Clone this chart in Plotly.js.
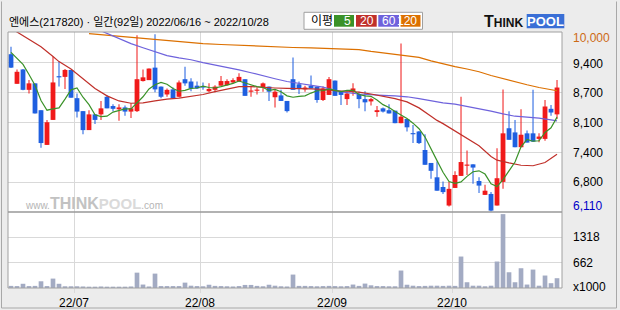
<!DOCTYPE html>
<html><head><meta charset="utf-8">
<script src="https://cdn.plot.ly/plotly-3.0.1.min.js"></script>
<style>html,body{margin:0;padding:0;background:#ececec;}#chart{width:620px;height:310px;}</style>
</head><body><div id="chart"></div>
<script>
// ---- data ----
const openP = [9520,8880,9190,8750,8890,8310,7560,8100,9040,9030,
9180,8570,8290,7880,8220,8220,8600,8400,8330,8370,
8280,8290,8940,8960,9230,8820,8650,8760,8600,8980,
8930,8840,8830,8720,8750,8840,8850,8910,8930,8980,
8710,8730,8800,8820,8590,8630,8510,8980,8870,8760,
8840,8820,8530,8640,8950,8720,8550,8710,8660,8550,
8500,8270,8350,8310,8300,8030,8120,7810,7850,7450,
7170,6860,6650,6250,6630,6890,7110,7140,6780,6480,
6500,6250,6760,7920,7830,7510,7810,7810,7690,7690,
8340,8220];
const highP = [9680,9190,9200,8960,8890,8310,8100,9470,9360,9200,
9180,8670,8290,8310,8220,8510,8640,8440,8440,8410,
8460,9930,9190,9210,9950,8820,8780,8800,8950,9250,
9000,8930,8910,8890,8850,9050,8980,9000,9110,8980,
8840,8800,8910,8820,8760,8750,8510,9450,8930,8840,
9060,8820,8820,9030,8950,8720,8720,8890,8710,8720,
8580,8400,8370,8440,8300,9750,8120,7990,7860,7790,
7170,7200,6770,6760,6990,8600,7440,7140,6860,6700,
6540,7490,8760,8290,8100,8330,7870,8750,7810,8530,
8420,8960];
const lowP = [9220,8880,8740,8670,8240,7500,7560,8100,8820,8770,
8580,8150,7790,7880,8010,8100,8350,8290,8080,8190,
8140,8270,8930,8960,8700,8570,8600,8570,8590,8840,
8720,8770,8750,8700,8700,8840,8840,8890,8930,8620,
8600,8650,8710,8510,8370,8510,8260,8750,8660,8710,
8780,8470,8510,8640,8620,8420,8420,8620,8350,8290,
8410,8170,8260,8240,8030,8030,7850,7600,7580,7130,
6830,6570,6500,6230,6630,6890,6910,6720,6520,6480,
6120,6250,6610,7670,7510,7510,7610,7630,7620,7650,
8190,8120];
const closeP = [9230,9140,8750,8890,8240,7600,8050,8910,9020,9180,
8580,8280,7880,8220,8100,8350,8350,8340,8370,8280,
8350,8980,9020,9210,8760,8600,8750,8570,8910,8890,
8780,8780,8800,8770,8820,8940,8940,8960,9030,8620,
8720,8750,8890,8710,8710,8510,8290,8750,8770,8800,
8780,8530,8780,8980,8620,8640,8670,8780,8550,8480,
8550,8310,8280,8240,8030,8170,7940,7790,7600,7130,
7000,6570,6540,6610,6910,7190,7130,7070,6680,6570,
6140,6840,7810,7670,7510,7780,7610,7630,7740,8390,
8260,8800];
const volume = [55,50,110,50,55,175,50,245,110,45,
45,45,40,35,35,40,35,35,35,35,
40,400,90,40,375,50,50,50,50,140,
60,50,45,85,55,50,45,40,50,80,
80,55,45,85,60,45,40,350,55,55,
50,45,50,55,50,45,50,90,55,115,
70,50,50,45,45,455,85,60,50,55,
60,60,55,60,55,820,150,60,60,45,
60,690,1925,410,150,515,90,480,60,325,
125,255];
const ma5 = [9560,9440,9300,9080,8850,8520,8310,8340,8360,8550,
8750,8790,8590,8430,8210,8170,8180,8270,8300,8340,
8340,8460,8600,8770,8860,8910,8870,8780,8720,8740,
8780,8790,8830,8800,8790,8820,8850,8890,8940,8900,
8850,8820,8800,8740,8760,8710,8620,8590,8610,8620,
8680,8730,8730,8770,8740,8710,8740,8740,8650,8620,
8610,8530,8430,8370,8280,8210,8130,8030,7910,7730,
7490,7220,6970,6770,6730,6760,6880,6980,7000,6930,
6720,6660,6810,7010,7190,7520,7680,7640,7650,7830,
7930,8160];
const ma20Idx = [0,1,2,4,5,7,8,10,12,14,16,18,20,22,24,26,28,30,32,34,36,38,40,42,44,46,48,50,52,54,56,58,60,62,64,66,68,70,71,72,74,76,78,80,81,83,85,87,89,91];
const ma20 = [10080,10000,9930,9760,9680,9470,9360,9200,9000,8780,8620,8510,8460,8470,8510,8550,8570,8610,8650,8710,8760,8820,8820,8800,8790,8780,8780,8770,8760,8730,8720,8700,8660,8610,8560,8490,8360,8180,8090,8020,7860,7700,7540,7310,7230,7170,7120,7110,7180,7360];
const ma60Idx = [14,16,18,20,22,24,26,28,30,32,34,36,38,40,42,44,46,48,50,52,54,56,58,60,62,64,66,68,70,72,74,76,78,80,82,84,86,88,90,91];
const ma60 = [10080,9970,9860,9750,9660,9570,9490,9440,9400,9340,9290,9240,9180,9120,9050,8990,8930,8890,8860,8810,8740,8690,8660,8640,8630,8620,8600,8560,8510,8470,8440,8390,8350,8290,8230,8180,8160,8140,8100,8080];
const ma120Idx = [13,16,18,20,23,26,29,32,35,38,41,44,47,50,53,56,58,60,62,64,66,68,70,72,74,76,78,80,82,84,86,88,90,91];
const ma120 = [9965,9930,9905,9890,9850,9810,9780,9750,9730,9710,9695,9685,9665,9655,9640,9630,9620,9580,9550,9520,9490,9450,9375,9310,9250,9200,9140,9060,8990,8920,8860,8800,8750,8730];
const priceTickText = ['10,000','9,400','8,700','8,100','7,400','6,800','6,110'];
const volTickText = ['1318','662','x1000'];
const monthLabels = ['22/07','22/08','22/09','22/10'];
const monthStartIdx = [11,32,54,74];
const maNames = ['5','20','60','120'];
const titleText = '엔에스(217820) · 일간(92일) 2022/06/16 ~ 2022/10/28';

// ---- styling ----
const C_UP = '#f01a1a', C_DN = '#1f5fe0';
const C_MA = ['#3a9228','#c0302a','#6e62dc','#dc7000'];
const C_VOL = '#a3abc3';
const GRID = '#d9d9d9';
const W=620,H=310,L=8,R=58,T=32,B=22;
const plotW=W-L-R, plotH=H-T-B;
const volFrac = 76/plotH;
const px2x = p => (p-L)/plotW;
const py2y = p => (H-B-p)/plotH;
const priceMax = 10000, priceMin = 6110, volMax = 1980;
const priceGrid = priceTickText.map((t,k)=>priceMax - k*(priceMax-priceMin)/6);
const volGrid = volTickText.map((t,k)=>volMax*(2-k)/3);

const idx = openP.map((v,i)=>i);
const colors = idx.map(i => closeP[i] >= openP[i] ? C_UP : C_DN);

const traces = [
  {type:'bar', x:idx, base:lowP, y:idx.map(i=>Math.max(highP[i]-lowP[i],15)), width:0.17,
   marker:{color:colors, line:{width:0}}, xaxis:'x', yaxis:'y', hoverinfo:'skip'},
  {type:'bar', x:idx, base:idx.map(i=>Math.min(openP[i],closeP[i])),
   y:idx.map(i=>Math.max(Math.abs(closeP[i]-openP[i]),25)), width:0.8,
   marker:{color:colors, line:{width:0}}, xaxis:'x', yaxis:'y', hoverinfo:'skip'},
  {type:'scatter', mode:'lines', x:ma120Idx, y:ma120, line:{color:C_MA[3],width:1.2}, xaxis:'x', yaxis:'y', hoverinfo:'skip'},
  {type:'scatter', mode:'lines', x:ma60Idx, y:ma60, line:{color:C_MA[2],width:1.2}, xaxis:'x', yaxis:'y', hoverinfo:'skip'},
  {type:'scatter', mode:'lines', x:ma20Idx, y:ma20, line:{color:C_MA[1],width:1.2}, xaxis:'x', yaxis:'y', hoverinfo:'skip'},
  {type:'scatter', mode:'lines', x:idx, y:ma5, line:{color:C_MA[0],width:1.2}, xaxis:'x', yaxis:'y', hoverinfo:'skip'},
  {type:'bar', x:idx, y:volume, width:0.78, marker:{color:C_VOL, line:{width:0}}, xaxis:'x', yaxis:'y2', hoverinfo:'skip'}
];

const fontL = '"Liberation Sans", Arial, sans-serif';
const fontK = '"Liberation Sans", "Noto Sans CJK KR", sans-serif';
const shapes = [];
const ann = [];
const line = (x0,y0,x1,y1,c,w)=>shapes.push({type:'line',xref:'paper',yref:'paper',x0:px2x(x0),x1:px2x(x1),y0:py2y(y0),y1:py2y(y1),line:{color:c,width:w||1}});
const rect = (x0,y0,x1,y1,fill,lc)=>shapes.push({type:'rect',xref:'paper',yref:'paper',x0:px2x(x0),x1:px2x(x1),y0:py2y(y1),y1:py2y(y0),fillcolor:fill,line:{color:lc||fill,width:lc?1:0}});
const text = (x,y,t,o)=>ann.push(Object.assign({xref:'paper',yref:'paper',x:px2x(x),y:py2y(y),text:t,showarrow:false,xanchor:'left',yanchor:'middle',font:{family:fontL,size:12,color:'#000'}},o||{}));

// outer frame
line(1.5,1.5,1.5,308,'#a8a8a8');
line(616.5,1.5,616.5,308,'#a8a8a8');
line(1.5,308,616.5,308,'#a8a8a8');
// plot borders
shapes.push({type:'rect',xref:'paper',yref:'paper',x0:0,x1:1,y0:0,y1:1,line:{color:'#a0a0a0',width:1},fillcolor:'rgba(0,0,0,0)'});
shapes.push({type:'line',xref:'paper',yref:'paper',x0:0,x1:1,y0:volFrac,y1:volFrac,line:{color:'#999999',width:1.5}});

// title
text(7,21,titleText,{font:{family:fontK,size:11,color:'#000'}});
// MA legend box
rect(304,12.3,422.5,29.3,'#ffffff','#a0a0a0');
text(308.5,21,'이평',{font:{family:fontK,size:12,color:'#000'}});
const boxes=[[334,354],[356,376.7],[378.3,399],[400.5,420.5]];
boxes.forEach((b,k)=>{
  rect(b[0],15,b[1],26.7,C_MA[k]);
  text(b[1]-1.2,21,maNames[k],{xanchor:'right',font:{family:fontL,size:12,color:'#ffffff'}});
});
// logo
text(481.5,21.5,'<b>T<span style="font-size:12px">HINK</span></b>',{font:{family:fontL,size:16,color:'#111'}});
rect(526.7,14,564.3,28.3,'#3a6fd6');
text(545.5,21.3,'<b>POOL</b>',{xanchor:'center',font:{family:fontL,size:13,color:'#ffffff'}});
// watermark
text(22.5,203,'<span style="font-size:10px;color:#b5b5b5">www.</span><b><span style="color:#c2c2c2">THINK</span><span style="font-size:15px;color:#dadada">POOL</span></b><span style="font-size:10px;color:#b5b5b5">.com</span>',{font:{family:fontL,size:16,color:'#c2c2c2'}});

// right price labels
const pShift=[-5.5,-1.5,-1,-0.5,-0.5,0,6];
priceTickText.forEach((t,k)=>{
  ann.push({xref:'paper',yref:'y',x:1,xshift:9,y:priceGrid[k],yshift:pShift[k],xanchor:'left',yanchor:'middle',showarrow:false,text:t,
    font:{family:fontL,size:12,color:k===0?'#cc6a14':(k===6?'#0000c8':'#000000')}});
});
const vShift=[0,0,1.5];
volTickText.forEach((t,k)=>{
  ann.push({xref:'paper',yref:'y2',x:1,xshift:9,y:volGrid[k],yshift:vShift[k],xanchor:'left',yanchor:'middle',showarrow:false,text:t,
    font:{family:fontL,size:12,color:'#000000'}});
});

const layout = {
  width:W, height:H, margin:{l:L,r:R,t:T,b:B,pad:0},
  paper_bgcolor:'#ececec', plot_bgcolor:'#ffffff', showlegend:false,
  barmode:'overlay', hovermode:false,
  xaxis:{range:[-0.5,91.83], anchor:'y2', tickmode:'array', tickvals:monthStartIdx.map(i=>i-0.5), ticktext:monthLabels,
    showgrid:true, gridcolor:GRID, gridwidth:1, ticks:'outside', ticklen:4, tickcolor:GRID, tickwidth:1,
    tickfont:{family:fontL,size:12,color:'#000'}, zeroline:false, showline:false, fixedrange:true},
  yaxis:{domain:[volFrac,1], range:[priceMin,priceMax], tickmode:'array', tickvals:priceGrid.slice(1,6), showticklabels:false,
    showgrid:true, gridcolor:GRID, gridwidth:1, zeroline:false, ticks:'', showline:false, fixedrange:true},
  yaxis2:{domain:[0,volFrac], range:[0,volMax], tickmode:'array', tickvals:volGrid.slice(0,2), showticklabels:false,
    showgrid:true, gridcolor:GRID, gridwidth:1, zeroline:false, ticks:'', showline:false, fixedrange:true},
  shapes:shapes, annotations:ann
};
Plotly.newPlot('chart', traces, layout, {staticPlot:true, displayModeBar:false});
</script>
</body></html>
